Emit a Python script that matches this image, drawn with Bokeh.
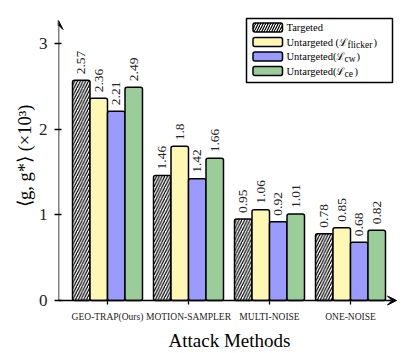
import math
from bokeh.plotting import figure
from bokeh.models import Range1d, FixedTicker, Arrow, VeeHead, Title
from bokeh.core.properties import value
from bokeh.embed import file_html
from bokeh.resources import INLINE

# ---------------- data ----------------
methods = ["GEO-TRAP(Ours)", "MOTION-SAMPLER", "MULTI-NOISE", "ONE-NOISE"]
targeted = [2.57, 1.46, 0.95, 0.78]
untargeted_flicker = [2.36, 1.80, 1.06, 0.85]
untargeted_cw = [2.21, 1.42, 0.92, 0.68]
untargeted_ce = [2.49, 1.66, 1.01, 0.82]
y_ticks = [0, 1, 2, 3]

series = [targeted, untargeted_flicker, untargeted_cw, untargeted_ce]
colors = ["white", "#FFF8B4", "#9B9BFF", "#9ACD9A"]
hatches = ["/", None, None, None]

# ---------------- layout ----------------
W, H = 403, 353
BL = 58                 # left border (y axis + title)
FW, FH = W - BL, H      # plotting frame
Y0 = 300                # pixel row of y = 0
PPU_Y = 85.67           # pixels per y unit
X0, PPU_X = 107, 81     # pixel column of first group, pixels per group
x_start = -(X0 - BL) / PPU_X
x_end = (W - X0) / PPU_X
y_end = Y0 / PPU_Y
y_start = -(FH - Y0) / PPU_Y

def px2x(fx):
    return (fx - X0) / PPU_X

def px2y(fy):
    return (Y0 - fy) / PPU_Y

SERIF = value("Liberation Serif")

p = figure(width=W, height=H, x_range=Range1d(x_start, x_end), y_range=Range1d(y_start, y_end),
           output_backend="svg", toolbar_location=None,
           min_border_left=BL, min_border_right=0, min_border_top=0, min_border_bottom=0)
p.outline_line_color = None
p.grid.visible = False
p.background_fill_color = "white"
p.border_fill_color = "white"
p.xaxis.visible = False

bw = 0.216
offsets = [-1.5 * bw, -0.5 * bw, 0.5 * bw, 1.5 * bw]
for j, vals in enumerate(series):
    xs = [i + offsets[j] for i in range(len(vals))]
    kw = {}
    if hatches[j]:
        kw = dict(hatch_pattern=hatches[j], hatch_color="black", hatch_scale=5.5, hatch_weight=1.2)
    p.vbar(x=xs, top=vals, width=bw, bottom=0, fill_color=colors[j], line_color="black",
           line_width=1.5, border_radius=2, **kw)
    p.text(x=xs, y=vals, text=[f"{v:g}" for v in vals], angle=math.pi / 2,
           text_align="left", text_baseline="middle", y_offset=-6,
           text_font=SERIF, text_font_size="13.5px", text_color="#222222")

# y axis (library axis)
p.yaxis.ticker = FixedTicker(ticks=y_ticks)
p.yaxis.axis_line_color = None
p.yaxis.minor_tick_line_color = None
p.yaxis.major_tick_line_color = "black"
p.yaxis.major_tick_line_width = 1.3
p.yaxis.major_tick_in = 3
p.yaxis.major_tick_out = 4
p.yaxis.major_label_text_font = "Liberation Serif"
p.yaxis.major_label_text_font_size = "17px"
p.yaxis.major_label_text_color = "#222222"
p.yaxis.major_label_standoff = 7
p.add_layout(Title(text="⟨g, g*⟩ (×10³)", align="right", offset=104, standoff=2,
                   text_font="Liberation Serif", text_font_size="18.5px",
                   text_font_style="normal", text_color="black"), "left")

# x axis: baseline ticks and category names along y = 0
cat_x = list(range(len(methods)))
p.segment(x0=cat_x, y0=[0] * len(cat_x), x1=cat_x, y1=[px2y(Y0 + 4)] * len(cat_x),
          line_color="black", line_width=1.3)
p.text(x=cat_x, y=[px2y(316)] * len(cat_x), text=methods, text_align="center",
       text_baseline="middle", text_font=SERIF, text_font_size="9.5px", text_color="#222222")
p.text(x=[px2x(229)], y=[px2y(340)], text=["Attack Methods"], text_align="center",
       text_baseline="middle", text_font=SERIF, text_font_size="19px", text_color="black")

# axis arrows
p.add_layout(Arrow(end=VeeHead(size=9, fill_color="black", line_color="black"),
                   x_start=x_start, y_start=0, x_end=x_start, y_end=px2y(20),
                   line_width=1.5, line_color="black"))
p.add_layout(Arrow(end=VeeHead(size=9, fill_color="black", line_color="black"),
                   x_start=x_start, y_start=0, x_end=px2x(396), y_end=0,
                   line_width=1.5, line_color="black"))

# ---------------- legend (drawn by hand for subscripts) ----------------
p.quad(left=[px2x(246)], right=[px2x(392)], top=[px2y(18)], bottom=[px2y(82)],
       fill_color="white", line_color="black", line_width=1.5)
rows = [27, 41.5, 56, 70.5]
for j, fy in enumerate(rows):
    kw = {}
    if hatches[j]:
        kw = dict(hatch_pattern=hatches[j], hatch_color="black", hatch_scale=5, hatch_weight=1.2)
    p.quad(left=[px2x(252.5)], right=[px2x(282)], top=[px2y(fy - 4.5)], bottom=[px2y(fy + 4.5)],
           fill_color=colors[j], line_color="black", line_width=1.5, border_radius=2, **kw)

main_txt = ["Targeted", "Untargeted (ℒ", "Untargeted(ℒ", "Untargeted(ℒ"]
sub_txt = ["", "flicker", "cw", "ce"]
sub_x = [0, 347, 344, 344]
close_x = [0, 373, 356, 354]
for j, fy in enumerate(rows):
    p.text(x=[px2x(286)], y=[px2y(fy)], text=[main_txt[j]], text_align="left",
           text_baseline="middle", text_font=SERIF, text_font_size="10.5px", text_color="black")
    if sub_txt[j]:
        p.text(x=[px2x(sub_x[j])], y=[px2y(fy + 2.5)], text=[sub_txt[j]], text_align="left",
               text_baseline="middle", text_font=SERIF, text_font_size="9.5px", text_color="black")
        p.text(x=[px2x(close_x[j])], y=[px2y(fy)], text=[")"], text_align="left",
               text_baseline="middle", text_font=SERIF, text_font_size="10.5px", text_color="black")

open("out.html", "w").write(file_html(p, INLINE))
